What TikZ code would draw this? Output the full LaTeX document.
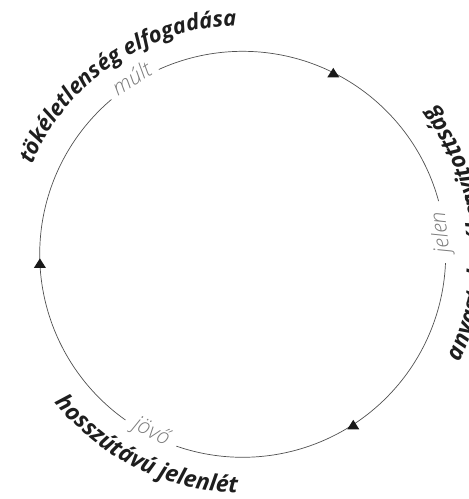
\documentclass[tikz,border=0pt]{standalone}
\usepackage{fontspec}
\setmainfont{Open Sans}
\newfontfamily\thinfont{Open Sans Light}[ItalicFont={Open Sans Light Italic}]
\usetikzlibrary{decorations.text,calc}
\definecolor{ringc}{HTML}{505050}
\definecolor{timec}{HTML}{7A7A7A}
\definecolor{lblc}{HTML}{1E1E1E}
\newcommand{\lblfmt}{\fontsize{23}{23}\selectfont\bfseries\itshape}
\newcommand{\lblfmtb}{\fontsize{22}{22}\selectfont\bfseries\itshape}
\begin{document}
\begin{tikzpicture}[x=1pt,y=1pt,
  ring/.style={draw=ringc,line width=0.7pt},
  timelbl/.style={text=timec,font=\fontsize{21.5}{21.5}\selectfont\thinfont\itshape,inner sep=0pt,anchor=mid},
  tri/.style={fill=black!90,draw=none},
  curvelbl/.style={decorate,decoration={text along path,text color=lblc,#1}}]
\clip (0,0) rectangle (469,499);
\coordinate (C) at (242.7,244.7);
\def\R{203}
% ring with gaps for the labels
\draw[ring] ($(C)+(15.2:\R)$) arc[start angle=15.2,end angle=114.4,radius=\R];
\draw[ring] ($(C)+(130.3:\R)$) arc[start angle=130.3,end angle=234.7,radius=\R];
\draw[ring] ($(C)+(250.9:\R)$) arc[start angle=250.9,end angle=357.5,radius=\R];
% arrowheads
\foreach \a in {63.5,182.5,303}{
  \fill[tri] ($(C)+(\a:\R)+(-6,-4.75)$) -- ++(12,0) -- ++(-6,9.5) -- cycle;
}
% time labels
\node[timelbl,rotate=32.3] (mult) at ($(C)+(122.3:\R)$) {múlt};
\node[timelbl,rotate=96.3] (jelen) at ($(C)+(6.3:\R)$) {jelen};
\node[timelbl,rotate=-27.2] (jovo) at ($(C)+(242.8:\R)$) {jövő};
% curved labels
\path[curvelbl={text align=center,text={|\lblfmtb|tökéletlenség elfogadása}}]
  ($(C)+(175:229)$) arc[start angle=175,end angle=73.4,radius=229];
\path[curvelbl={text align=center,text={|\lblfmt|hosszútávú jelenlét}}]
  ($(C)+(203.5:239)$) arc[start angle=203.5,end angle=283.5,radius=239];
\path[curvelbl={text align=left,text={|\lblfmt|anyagtakarékos}}]
  ($(C)+(-26.5:242)$) arc[start angle=-26.5,end angle=45,radius=242];
\path[curvelbl={text align=right,text={|\lblfmt|nyitottság}}]
  ($(C)+(-30:242)$) arc[start angle=-30,end angle=38,radius=242];
\end{tikzpicture}
\end{document}
